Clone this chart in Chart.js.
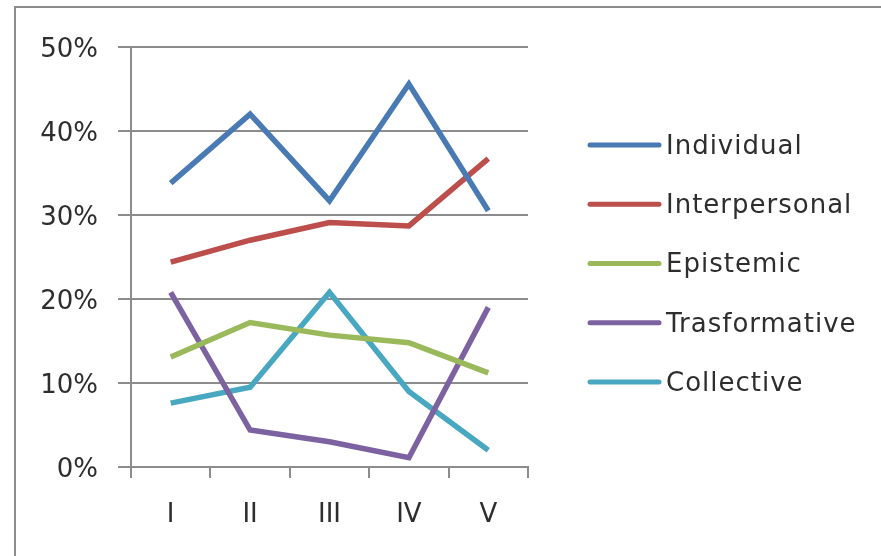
<!DOCTYPE html>
<html>
<head>
<meta charset="utf-8">
<script src="https://cdn.jsdelivr.net/npm/chart.js@4.4.1/dist/chart.umd.min.js"></script>
<style>
    html, body { margin: 0; padding: 0; background: #ffffff; }
    #frame {
        position: absolute;
        left: 14px;
        top: 6px;
        width: 900px;
        height: 600px;
        border-top: 2px solid #8c8c8c;
        border-left: 2px solid #8c8c8c;
    }
    #wrap { position: absolute; left: 0; top: 0; width: 881px; height: 556px; }
</style>
</head>
<body>
<div id="frame"></div>
<div id="wrap"><canvas id="lineChart" width="881" height="556"></canvas></div>
<script>
// categorias do eixo X
var fases = ['I', 'II', 'III', 'IV', 'V'];

// valores em % por dimensão
var individual = [33.8, 42.0, 31.7, 45.6, 30.5];
var interpersonal = [24.4, 27.0, 29.1, 28.7, 36.7];
var epistemic = [13.1, 17.2, 15.7, 14.8, 11.2];
var trasformative = [20.8, 4.4, 3.0, 1.1, 19.0];
var collective = [7.6, 9.5, 20.8, 9.0, 2.0];

var nomes = ['Individual', 'Interpersonal', 'Epistemic', 'Trasformative', 'Collective'];
var cores = ['#4a7ab4', '#bc4e4b', '#9ab95a', '#7c62a0', '#48a8c2'];

var ticksY = [0, 10, 20, 30, 40, 50];

var fonte = 'DejaVu Sans';
var corTexto = '#2e2e2e';

function montaDataset(i, valores) {
    return {
        label: nomes[i],
        data: valores,
        borderColor: cores[i],
        backgroundColor: cores[i],
        borderWidth: 5.5,
        pointRadius: 0,
        tension: 0,
        fill: false
    };
}

// legenda desenhada à direita do gráfico
var legendaLateral = {
    id: 'legendaLateral',
    afterDraw: function (chart) {
        var ctx = chart.ctx;
        ctx.save();
        ctx.font = '26px "' + fonte + '"';
        ctx.letterSpacing = '1px';
        ctx.textBaseline = 'middle';
        ctx.textAlign = 'left';
        chart.data.datasets.forEach(function (ds, i) {
            var y = 145 + i * 59.25;
            ctx.strokeStyle = ds.borderColor;
            ctx.lineWidth = 5;
            ctx.lineCap = 'round';
            ctx.beginPath();
            ctx.moveTo(590, y);
            ctx.lineTo(659, y);
            ctx.stroke();
            ctx.fillStyle = corTexto;
            ctx.fillText(ds.label, 666, y + 2);
        });
        ctx.restore();
    }
};

var context = document.getElementById('lineChart').getContext('2d');
var lineChart = new Chart(context, {
    type: 'line',
    data: {
        labels: fases,
        datasets: [
            montaDataset(0, individual),
            montaDataset(1, interpersonal),
            montaDataset(2, epistemic),
            montaDataset(3, trasformative),
            montaDataset(4, collective)
        ]
    },
    options: {
        responsive: false,
        animation: false,
        layout: {
            padding: { left: 20, right: 353, top: 47, bottom: 0 }
        },
        plugins: {
            legend: { display: false },
            tooltip: { enabled: false }
        },
        scales: {
            x: {
                offset: true,
                grid: {
                    offset: true,
                    drawOnChartArea: false,
                    drawTicks: true,
                    tickLength: 11,
                    color: '#8c8c8c',
                    lineWidth: 2
                },
                border: { display: true, color: '#8c8c8c', width: 2 },
                ticks: {
                    color: corTexto,
                    font: { family: fonte, size: 26 },
                    padding: 22
                },
                afterFit: function (scale) { scale.height = 556 - 467; }
            },
            y: {
                min: 0,
                max: 50,
                afterBuildTicks: function (scale) {
                    scale.ticks = ticksY.map(function (v) { return { value: v }; });
                },
                grid: {
                    color: '#8c8c8c',
                    lineWidth: 2,
                    drawTicks: true,
                    tickLength: 13
                },
                border: { display: true, color: '#8c8c8c', width: 2 },
                ticks: {
                    color: corTexto,
                    font: { family: fonte, size: 26 },
                    padding: 20,
                    labelOffset: 3,
                    callback: function (v) { return v + '%'; }
                },
                afterFit: function (scale) { scale.width = 131 - 20; }
            }
        }
    },
    plugins: [legendaLateral]
});
</script>
</body>
</html>
